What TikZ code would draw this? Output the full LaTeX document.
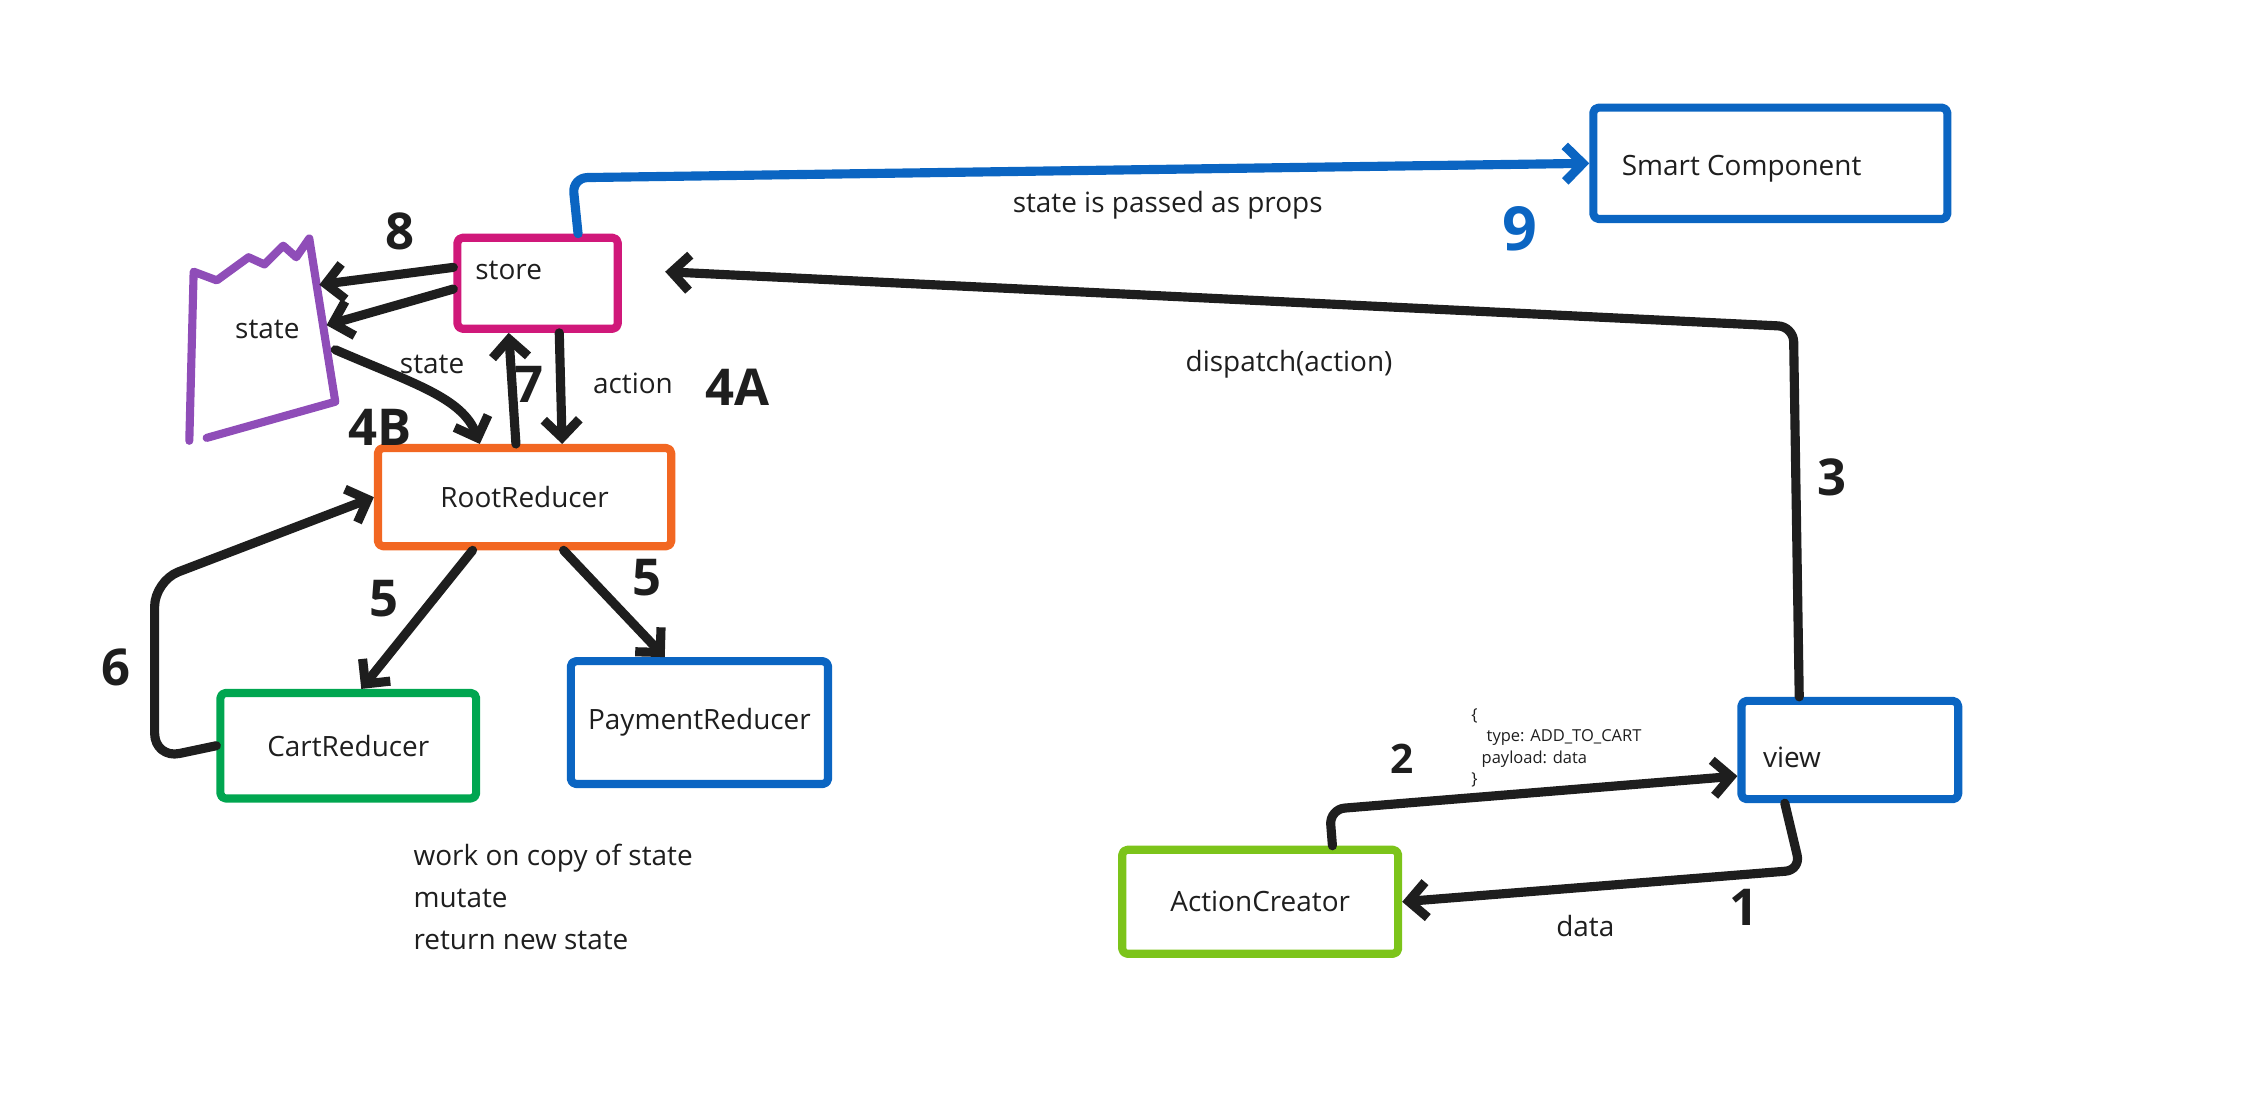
\documentclass[tikz,border=0pt]{standalone}
\usepackage{fontspec}
\setmainfont{Open Sans}
\usetikzlibrary{arrows.meta}
\usetikzlibrary{positioning}
\tikzset{>={Straight Barb[length=7pt,width=14pt]}}
\definecolor{inkblack}{HTML}{1E1E1E}
\definecolor{inkblue}{HTML}{0B65C2}
\definecolor{inkpurple}{HTML}{8F4DB8}
\definecolor{inkmagenta}{HTML}{D0187A}
\definecolor{inkorange}{HTML}{F26722}
\definecolor{inkgreen}{HTML}{00A650}
\definecolor{inklime}{HTML}{7CC41A}
\tikzset{
	box/.style={draw=#1, line width=3.2pt, rounded corners=2pt, line join=round},
	flow/.style={draw=inkblack, line width=3.6pt, line cap=round, line join=round, ->},
	stepno/.style={font=\fontsize{20}{20}\selectfont\bfseries, text=inkblack},
	hand/.style={font=\fontsize{11}{13}\selectfont, text=inkblack},
}

\begin{document}
\begin{tikzpicture}[x=0.02cm,y=-0.02cm]
	\useasboundingbox (0,0) rectangle (1568,765);
	% boxes
	\node[box=inkblue, minimum width=4.9cm, minimum height=1.54cm] (smart) at (1225,113) {};
	\node[hand, anchor=west] (smarttext) at (1116,117) {Smart Component};
	\node[box=inkmagenta, minimum width=2.22cm, minimum height=1.26cm] (store) at (372,196) {};
	\node[hand] (storetext) at (352,187) {store};
	\node[box=inkorange, hand, minimum width=4.06cm, minimum height=1.36cm] (root) at (363,344) {RootReducer};
	\node[box=inkgreen, hand, minimum width=3.54cm, minimum height=1.46cm] (cart) at (241,516) {CartReducer};
	\node[box=inkblue, hand, minimum width=3.56cm, minimum height=1.7cm] (pay) at (484,500) {PaymentReducer};
	\node[box=inkblue, minimum width=3cm, minimum height=1.36cm] (view) at (1280,519) {};
	\node[hand] (viewtext) at (1240,524) {view};
	\node[box=inklime, hand, minimum width=3.82cm, minimum height=1.44cm] (creator) at (872,624) {ActionCreator};
	% state sheet
	\draw[draw=inkpurple, line width=3.2pt, line cap=round, line join=round]
		(143,303) -- (232,278) -- (224,228) -- (214,165) -- (205,178) -- (196,170) -- (183,183)
		-- (172,178) -- (150,194) -- (134,188) -- (131,305);
	\node[hand] (statetext) at (185,228) {state};
	\coordinate (state8a) at (221,197);
	\coordinate (state8b) at (226,225);
	\coordinate (stateout) at (232,242);
	% bends
	\coordinate (bend9) at (396,123);
	\coordinate (bend3) at (1241,226);
	\coordinate (bend6a) at (107,525);
	\coordinate (bend6b) at (107,402);
	\coordinate (bend2) at (920,560);
	\coordinate (bend1) at (1246,602);
	% connectors
	\draw[flow, draw=inkblue, rounded corners=6pt] ([xshift=.56cm]store.north) -- (bend9) -- (smart.west);
	\draw[flow, rounded corners=6pt] ([xshift=-.7cm]view.north) -- (bend3) -- ([shift={(.6cm,.16cm)}]store.east);
	\draw[flow] ([yshift=.22cm]store.west) -- (state8a);
	\draw[flow] ([yshift=-.08cm]store.west) -- (state8b);
	\draw[flow] (stateout) .. controls (285,265) and (320,275) .. ([xshift=-.62cm]root.north);
	\draw[flow] ([xshift=-.12cm]root.north) -- ([xshift=-.4cm]store.south);
	\draw[flow] ([xshift=.3cm]store.south) -- ([xshift=.52cm]root.north);
	\draw[flow, rounded corners=10pt] (cart.west) -- (bend6a) -- (bend6b) -- (root.west);
	\draw[flow] ([xshift=-.72cm]root.south) -- ([xshift=.18cm]cart.north);
	\draw[flow] ([xshift=.54cm]root.south) -- ([xshift=-.48cm]pay.north);
	\draw[flow, rounded corners=6pt] ([xshift=1cm]creator.north) -- (bend2) -- ([yshift=-.36cm]view.west);
	\draw[flow, rounded corners=6pt] ([xshift=-.9cm]view.south) -- (bend1) -- (creator.east);
	% texts
	\node[hand] (propstext) at (808,142) {state is passed as props};
	\node[hand] (dispatchtext) at (892,252) {dispatch(action)};
	\node[hand] (statelabel) at (299,252) {state};
	\node[hand] (actionlabel) at (438,265) {action};
	\node[hand] (datalabel) at (1097,641) {data};
	\node[hand, anchor=north west, align=left, font=\fontsize{11}{16.5}\selectfont] (notes) at (280,578)
		{work on copy of state\\mutate\\return new state};
	\node[anchor=north west, align=left, font=\fontsize{6.5}{8.5}\selectfont, text=inkblack] (payload) at (1012,484)
		{\{\\\hspace{6pt}type: ADD\_TO\_CART\\\hspace{4pt}payload: data\\\}};
	% step numbers
	\node[stepno] (no8) at (277,160) {8};
	\node[stepno] (no4b) at (263,296) {4B};
	\node[stepno] (no7) at (366,266) {7};
	\node[stepno] (no4a) at (510,268) {4A};
	\node[stepno] (no5a) at (266,414) {5};
	\node[stepno] (no5b) at (448,400) {5};
	\node[stepno] (no6) at (80,462) {6};
	\node[stepno] (no3) at (1268,330) {3};
	\node[stepno, text=inkblue, font=\fontsize{24}{24}\selectfont\bfseries] (no9) at (1052,158) {9};
	\node[stepno, font=\fontsize{16}{16}\selectfont\bfseries] (no2) at (970,525) {2};
	\node[stepno] (no1) at (1207,628) {1};
\end{tikzpicture}
\end{document}
